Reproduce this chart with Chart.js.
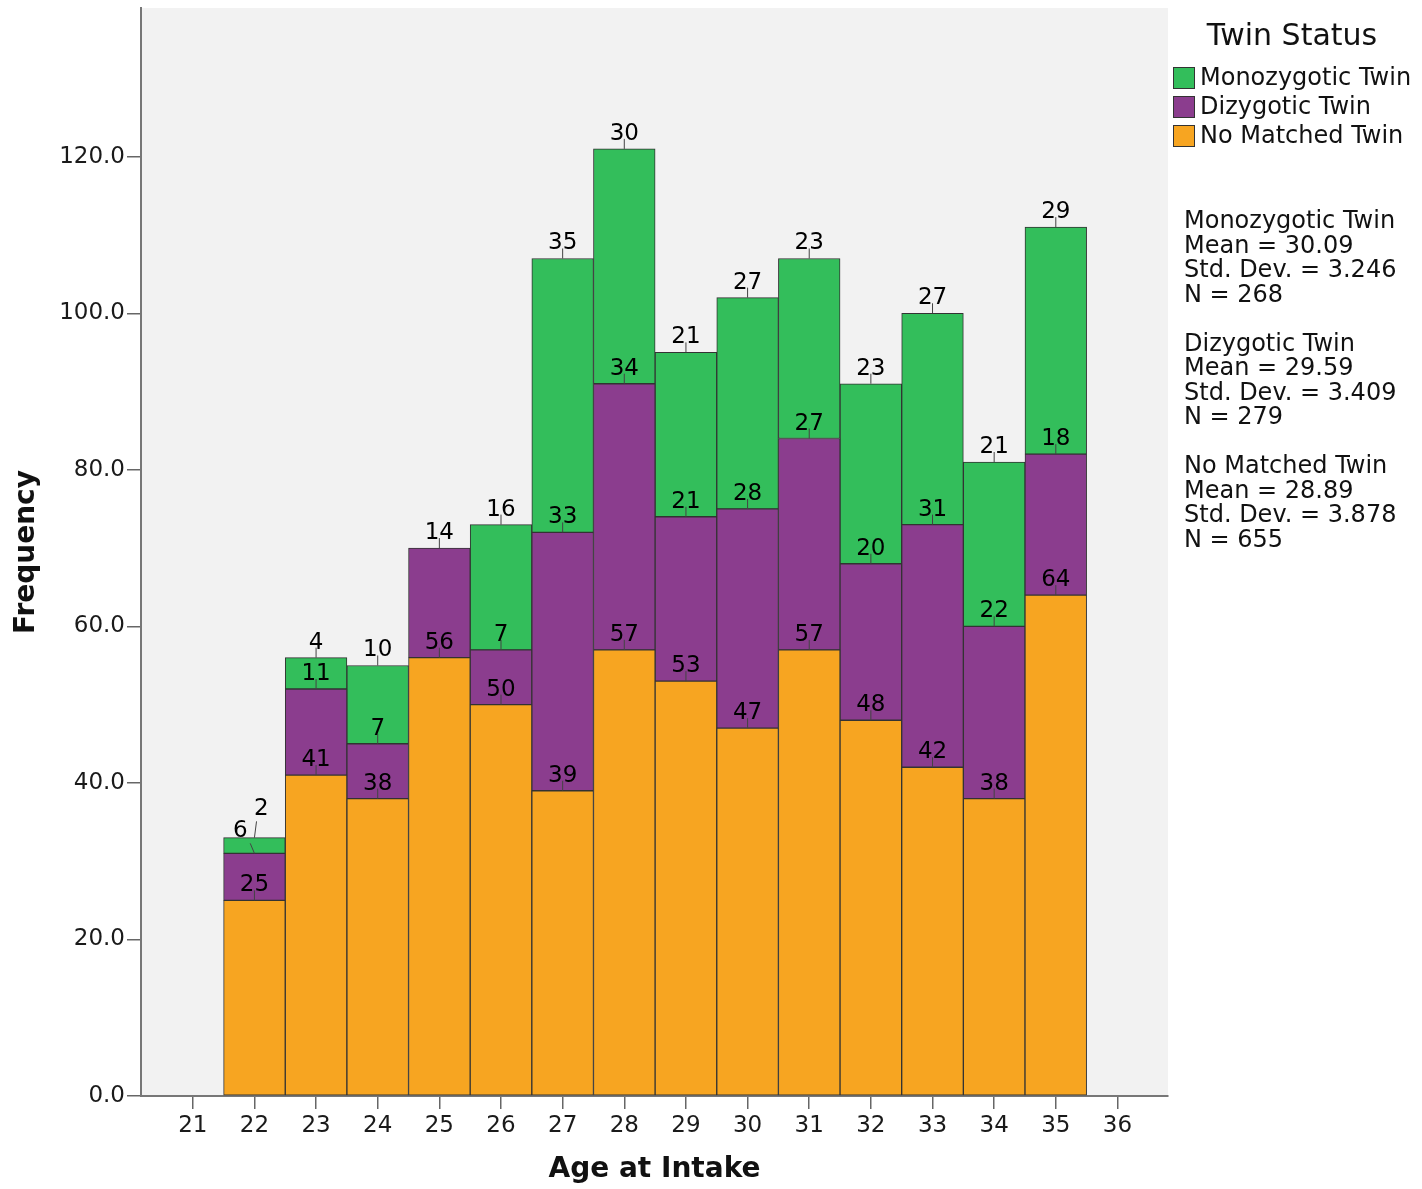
<!DOCTYPE html>
<html>
<head>
<meta charset="utf-8">
<script src="https://cdn.jsdelivr.net/npm/chart.js@4.4.0/dist/chart.umd.min.js"></script>
<style>
html,body{margin:0;padding:0;background:#ffffff;}
#wrap{width:1422px;height:1189px;position:relative;}
</style>
</head>
<body>
<div id="wrap"><canvas id="c" width="1422" height="1189"></canvas></div>
<script>
// ---- data ----
const ages = [22, 23, 24, 25, 26, 27, 28, 29, 30, 31, 32, 33, 34, 35];
const noMatched   = [25, 41, 38, 56, 50, 39, 57, 53, 47, 57, 48, 42, 38, 64];
const dizygotic   = [6, 11, 7, 14, 7, 33, 34, 21, 28, 27, 20, 31, 22, 18];
const monozygotic = [2, 4, 10, 0, 16, 35, 30, 21, 27, 23, 23, 27, 21, 29];
const seriesNames = ['No Matched Twin', 'Dizygotic Twin', 'Monozygotic Twin'];
const seriesColors = ['#F7A521', '#8B3D8E', '#33BE5B'];
const xTickValues = [21, 22, 23, 24, 25, 26, 27, 28, 29, 30, 31, 32, 33, 34, 35, 36];
const yTickValues = [0, 20, 40, 60, 80, 100, 120];
const legendTitle = 'Twin Status';
const statGroups = ['Monozygotic Twin', 'Dizygotic Twin', 'No Matched Twin'];
const statMeans = ['30.09', '29.59', '28.89'];
const statSDs = ['3.246', '3.409', '3.878'];
const statNs = ['268', '279', '655'];

const FONT = '"DejaVu Sans", "Liberation Sans", sans-serif';
Chart.defaults.font.family = FONT;
Chart.defaults.color = '#1a1a1a';

function toPoints(arr) {
  return ages.map((a, i) => ({ x: a, y: arr[i] === 0 ? null : arr[i] }));
}

const seriesValues = [noMatched, dizygotic, monozygotic];
const datasets = seriesValues.map((arr, i) => ({
  label: seriesNames[i],
  data: toPoints(arr),
  backgroundColor: seriesColors[i],
  borderColor: '#333333',
  borderWidth: 1,
  borderSkipped: false,
  barPercentage: 1.0,
  categoryPercentage: 1.0
}));

const bgPlugin = {
  id: 'plotBg',
  beforeDraw(chart) {
    const { ctx, chartArea: a } = chart;
    ctx.save();
    ctx.fillStyle = '#f2f2f2';
    ctx.fillRect(a.left, a.top, a.right - a.left, a.bottom - a.top);
    ctx.restore();
  }
};

const labelPlugin = {
  id: 'segLabels',
  afterDatasetsDraw(chart) {
    const ctx = chart.ctx;
    ctx.save();
    ctx.font = '23px ' + FONT;
    ctx.textAlign = 'center';
    ctx.textBaseline = 'alphabetic';
    for (let j = 0; j < ages.length; j++) {
      const labs = [];
      chart.data.datasets.forEach((ds, i) => {
        const v = ds.data[j].y;
        if (!v) return;
        const el = chart.getDatasetMeta(i).data[j];
        labs.push({ text: String(v), barX: el.x, top: el.y, x: el.x, y: el.y - 9, shifted: false });
      });
      for (let k = 1; k < labs.length; k++) {
        const lo = labs[k - 1], hi = labs[k];
        if (lo.y - hi.y < 20) {
          lo.x -= 14; lo.y -= 7; lo.shifted = true;
          hi.x += 7; hi.y = lo.y - 22; hi.shifted = true;
        }
      }
      labs.forEach(l => {
        ctx.strokeStyle = '#444';
        ctx.lineWidth = 1;
        ctx.beginPath();
        if (l.shifted) {
          ctx.moveTo(l.x + (l.barX - l.x) * 0.7, l.y + 6);
        } else {
          ctx.moveTo(l.barX, l.top - 10);
        }
        ctx.lineTo(l.barX, l.top);
        ctx.stroke();
        ctx.fillStyle = '#000';
        ctx.fillText(l.text, l.x, l.y);
      });
    }
    ctx.restore();
  }
};

const legendPlugin = {
  id: 'sideLegend',
  afterDraw(chart) {
    const ctx = chart.ctx;
    ctx.save();
    ctx.fillStyle = '#111';
    ctx.textBaseline = 'middle';
    ctx.textAlign = 'center';
    ctx.font = '30px ' + FONT;
    ctx.fillText(legendTitle, 1292, 37);
    ctx.textAlign = 'left';
    ctx.font = '24px ' + FONT;
    const ds = chart.data.datasets.slice().reverse();
    ds.forEach((d, i) => {
      const cy = 78 + i * 29;
      ctx.fillStyle = d.backgroundColor;
      ctx.fillRect(1173, cy - 11, 22, 22);
      ctx.strokeStyle = '#333';
      ctx.lineWidth = 1;
      ctx.strokeRect(1173.5, cy - 10.5, 21, 21);
      ctx.fillStyle = '#111';
      ctx.fillText(d.label, 1200, cy + 1);
    });
    let line = 0;
    statGroups.forEach((g, i) => {
      const rows = [g, 'Mean = ' + statMeans[i], 'Std. Dev. = ' + statSDs[i], 'N = ' + statNs[i]];
      rows.forEach(r => {
        ctx.fillText(r, 1184, 222 + line * 24.5);
        line++;
      });
      line++;
    });
    ctx.restore();
  }
};

new Chart(document.getElementById('c'), {
  type: 'bar',
  data: { datasets },
  options: {
    responsive: false,
    animation: false,
    devicePixelRatio: 1,
    layout: { padding: { left: 0, right: 254, top: 8, bottom: 0 } },
    plugins: {
      legend: { display: false },
      tooltip: { enabled: false },
      title: { display: false }
    },
    scales: {
      x: {
        type: 'linear',
        stacked: true,
        offset: false,
        min: 20.16,
        max: 36.82,
        afterBuildTicks: s => { s.ticks = xTickValues.map(v => ({ value: v })); },
        afterFit: s => { s.height = 93; s.paddingLeft = 0; s.paddingRight = 0; },
        ticks: {
          autoSkip: false,
          includeBounds: false,
          maxRotation: 0,
          padding: 3,
          font: { size: 23 },
          color: '#1a1a1a',
          callback: v => String(v)
        },
        grid: { display: true, offset: false, drawOnChartArea: false, drawTicks: true, tickLength: 13, color: '#666', lineWidth: 1.5 },
        border: { display: true, color: '#777', width: 2 },
        title: { display: true, text: 'Age at Intake', font: { size: 28, weight: 'bold' }, color: '#111', padding: { top: 0, bottom: 2 } }
      },
      y: {
        stacked: true,
        min: 0,
        max: 139,
        afterBuildTicks: s => { s.ticks = yTickValues.map(v => ({ value: v })); },
        afterFit: s => { s.width = 141; s.paddingTop = 0; s.paddingBottom = 0; },
        ticks: {
          includeBounds: false,
          padding: 2,
          font: { size: 23 },
          color: '#1a1a1a',
          callback: v => Number(v).toFixed(1)
        },
        grid: { display: true, drawOnChartArea: false, drawTicks: true, tickLength: 14, color: '#666', lineWidth: 1.5 },
        border: { display: true, color: '#777', width: 2 },
        title: { display: true, text: 'Frequency', font: { size: 28, weight: 'bold' }, color: '#111', padding: { top: 10, bottom: 0 } }
      }
    }
  },
  plugins: [bgPlugin, labelPlugin, legendPlugin]
});
</script>
</body>
</html>
